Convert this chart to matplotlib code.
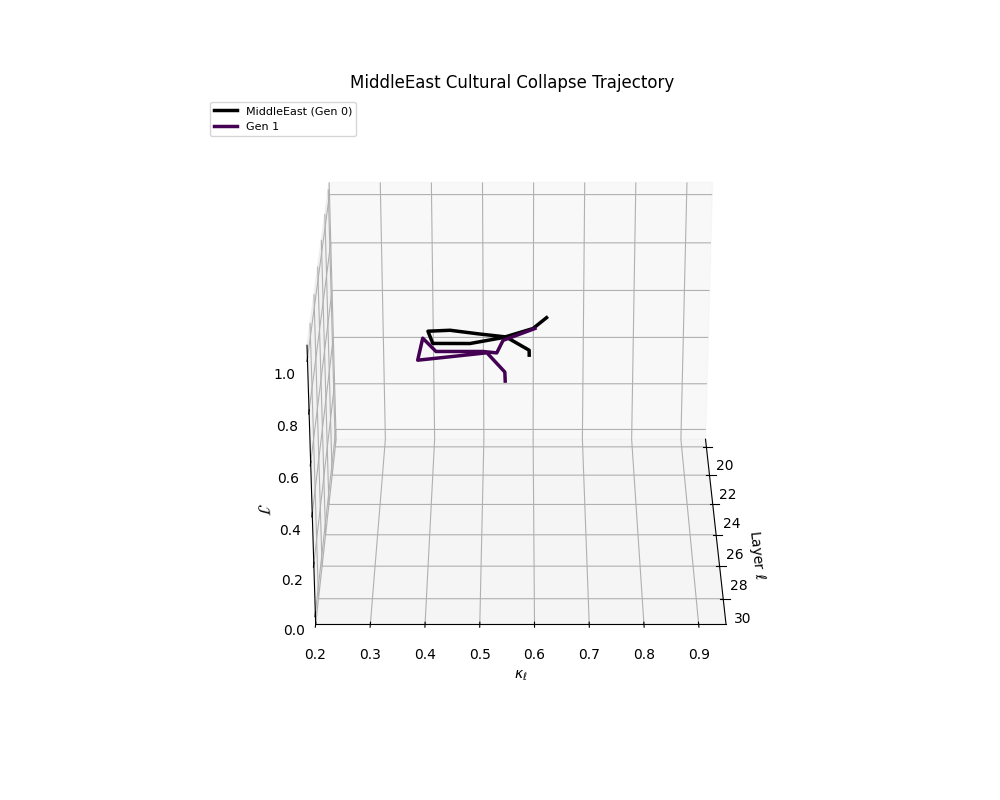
import numpy as np
import matplotlib
matplotlib.use('Agg')
import matplotlib.pyplot as plt

layers = [20, 21, 22, 23, 24, 25, 26, 27, 28, 29, 30]
kappa_gen0 = [0.626, 0.599, 0.54, 0.477, 0.407, 0.4, 0.443, 0.496, 0.548, 0.59, 0.59]
j_gen0 = [0.515, 0.525, 0.543, 0.575, 0.632, 0.738, 0.798, 0.84, 0.884, 0.889, 0.927]
kappa_gen1 = [0.603, 0.54, 0.528, 0.502, 0.413, 0.39, 0.382, 0.448, 0.513, 0.546, 0.547]
j_gen1 = [0.469, 0.475, 0.479, 0.542, 0.599, 0.71, 0.678, 0.75, 0.822, 0.804, 0.827]

fig = plt.figure(figsize=(10, 8))
ax = fig.add_subplot(111, projection='3d')
ax.plot(layers, kappa_gen0, j_gen0, color='black', linewidth=2.5, label='MiddleEast (Gen 0)')
ax.plot(layers, kappa_gen1, j_gen1, color='#440154', linewidth=2.5, label='Gen 1')
ax.set_xlim(19.45, 31.5)
ax.set_ylim(0.2, 0.95)
ax.set_zlim(-0.043, 1.05)
ax.set_zticks([0, 0.2, 0.4, 0.6, 0.8, 1.0])
ax.set_xlabel(r'Layer $\ell$')
ax.set_ylabel(r'$\kappa_\ell$')
ax.set_zlabel(r'$\mathcal{J}$')
ax.set_title('MiddleEast Cultural Collapse Trajectory')
ax.view_init(elev=26, azim=0)
ax.legend(loc='upper left', fontsize=8)
fig.savefig('out.png', dpi=100)
